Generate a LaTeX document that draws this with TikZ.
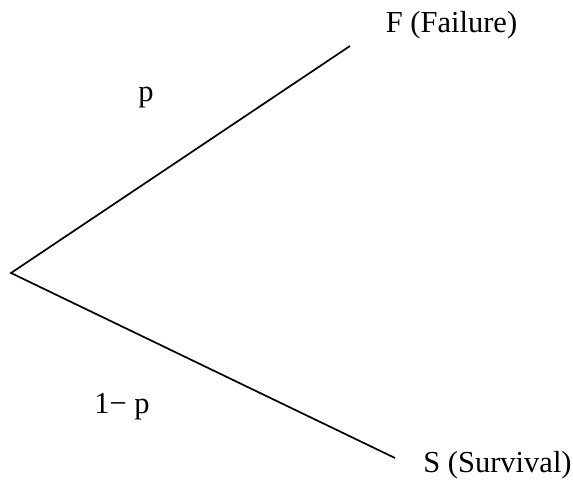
\documentclass[tikz,border=0pt]{standalone}
\usepackage{fontspec}
\setmainfont{Liberation Serif}
\begin{document}
\begin{tikzpicture}[x=1pt,y=-1pt,
  branch/.style={line width=1.7pt},
  lbl/.style={anchor=base,inner sep=0pt,font=\fontsize{30.5}{36}\selectfont}]
\useasboundingbox (0,0) rectangle (573,494);
\coordinate (root) at (11,273);
\coordinate (fend) at (350,46);
\coordinate (send) at (395,458);
\draw[branch] (fend) -- (root) -- (send);
\node[lbl] (F) at (451.5,33) {F (Failure)};
\node[lbl] (p) at (146,102) {p};
\node[lbl] (q) at (122,413) {1− p};
\node[lbl] (S) at (497.5,472) {S (Survival)};
\end{tikzpicture}
\end{document}
